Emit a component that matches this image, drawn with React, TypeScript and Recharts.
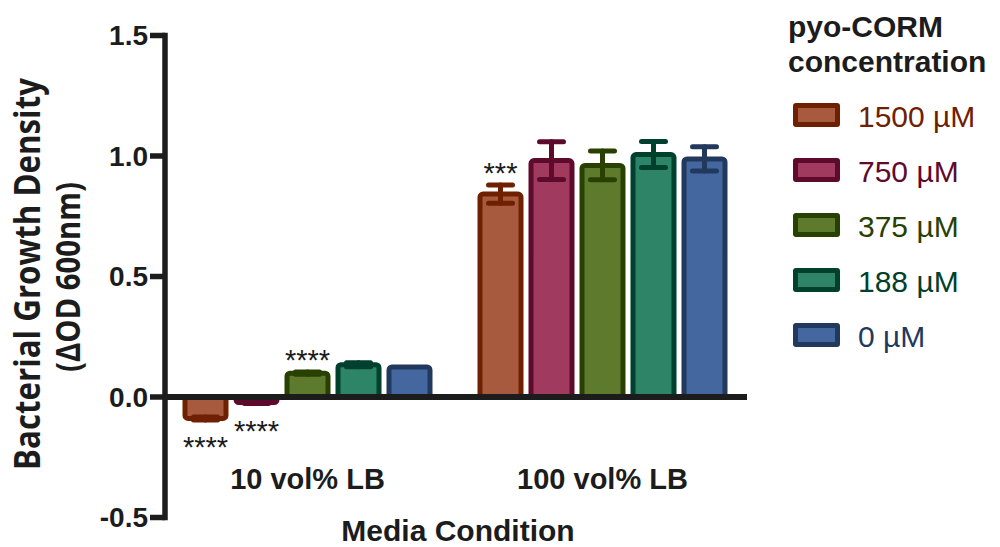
import {
  BarChart,
  Bar,
  XAxis,
  YAxis,
  ErrorBar,
  ReferenceLine,
  LabelList,
  Label,
} from 'recharts'

const categories = ['10 vol% LB', '100 vol% LB']
const concentrations = ['1500 µM', '750 µM', '375 µM', '188 µM', '0 µM']

const mean1500 = [-0.089, 0.842]
const err1500 = [0.006, 0.038]
const sig1500 = ['****', '***']

const mean750 = [-0.023, 0.981]
const err750 = [0.004, 0.078]
const sig750 = ['****', '']

const mean375 = [0.099, 0.961]
const err375 = [0.005, 0.06]
const sig375 = ['****', '']

const mean188 = [0.134, 1.006]
const err188 = [0.008, 0.054]
const sig188 = ['', '']

const mean0 = [0.125, 0.988]
const err0 = [0, 0.05]
const sig0 = ['', '']

const yTicks = [-0.5, 0, 0.5, 1.0, 1.5]

const fills = ['#A85A3E', '#A03A5E', '#5E7A2C', '#2E8466', '#4467A0']
const strokes = ['#6F2000', '#5E0A2C', '#284000', '#00402C', '#22395E']

const seriesValues = [
  { key: 'c1500', means: mean1500, errs: err1500, sigs: sig1500 },
  { key: 'c750', means: mean750, errs: err750, sigs: sig750 },
  { key: 'c375', means: mean375, errs: err375, sigs: sig375 },
  { key: 'c188', means: mean188, errs: err188, sigs: sig188 },
  { key: 'c0', means: mean0, errs: err0, sigs: sig0 },
]

const data = categories.map((name, i) => {
  const row: Record<string, string | number> = { name }
  seriesValues.forEach((s) => {
    row[s.key] = s.means[i]
    row[s.key + 'Err'] = s.errs[i]
  })
  return row
})

const AXIS = '#1c1c1c'
const ARIAL = '"Liberation Sans", Arial, Helvetica, sans-serif'

// stars sit a fixed distance past the end of the error bar
const sigLabel = (means: number[], errs: number[], sigs: string[]) => (props: any) => {
  const { x, y, width, height, index } = props
  const s = sigs[index]
  if (!s) return null
  const v = means[index]
  const h = Number(height)
  const top = Math.min(Number(y), Number(y) + h)
  const bottom = Math.max(Number(y), Number(y) + h)
  const pxPerUnit = Math.abs(h) / Math.abs(v)
  const errPx = errs[index] * pxPerUnit
  const cx = Number(x) + Number(width) / 2
  const cy = v < 0 ? bottom + errPx + 20 : top - errPx - 19
  return (
    <text x={cx} y={cy + 17} textAnchor="middle" fontSize={29} fontFamily={ARIAL} fill="#1c1c1c">
      {s}
    </text>
  )
}

const CategoryTick = (props: any) => {
  const { x, y, payload } = props
  return (
    <text x={x} y={y - 28.5} textAnchor="middle" fontSize={29} fontWeight="bold" fontFamily={ARIAL} fill={AXIS}>
      {payload.value}
    </text>
  )
}

export default function App() {
  return (
    <div style={{ position: 'absolute', left: 0, top: 0, width: 1000, height: 547, background: '#fff', fontFamily: ARIAL }}>
      <BarChart
        width={1000}
        height={547}
        data={data}
        margin={{ top: 35.5, right: 253, bottom: 0, left: 0 }}
        barSize={41}
        barGap={10}
      >
        <XAxis
          dataKey="name"
          axisLine={false}
          tickLine={false}
          tickSize={0}
          tickMargin={0}
          height={29.5}
          padding={{ left: -5, right: -3 }}
          tick={<CategoryTick />}
          interval={0}
        >
          <Label
            content={(p: any) => {
              const vb = p.viewBox || { x: 165, y: 517.5, width: 582 }
              return (
                <text x={vb.x + vb.width / 2 + 2} y={vb.y + 23} textAnchor="middle" fontSize={30} fontWeight="bold" fontFamily={ARIAL} fill={AXIS}>
                  Media Condition
                </text>
              )
            }}
          />
        </XAxis>
        <YAxis
          width={165}
          domain={[-0.5, 1.5]}
          ticks={yTicks}
          allowDataOverflow
          tickFormatter={(v: number) => v.toFixed(1)}
          axisLine={{ stroke: AXIS, strokeWidth: 5.5, strokeLinecap: 'square' }}
          tickLine={{ stroke: AXIS, strokeWidth: 5.5 }}
          tickSize={15}
          tickMargin={2}
          tick={{ fontSize: 28, fontWeight: 'bold', fontFamily: ARIAL, fill: AXIS }}
        >
          <Label
            content={() => (
              <g fontFamily='"Open Sans", "DejaVu Sans", sans-serif' fontWeight="bold" fill={AXIS}>
                <text
                  transform="translate(40,274) rotate(-90)"
                  textAnchor="middle"
                  fontSize={36}
                  textLength={392}
                  lengthAdjust="spacingAndGlyphs"
                >
                  Bacterial Growth Density
                </text>
                <text
                  transform="translate(80,277) rotate(-90)"
                  textAnchor="middle"
                  fontSize={34}
                  textLength={190}
                  lengthAdjust="spacingAndGlyphs"
                >
                  (ΔOD 600nm)
                </text>
              </g>
            )}
          />
        </YAxis>
        {seriesValues.map((s, i) => (
          <Bar
            key={s.key}
            dataKey={s.key}
            name={concentrations[i]}
            fill={fills[i]}
            stroke={strokes[i]}
            strokeWidth={5}
            radius={3}
            isAnimationActive={false}
          >
            <ErrorBar
              dataKey={s.key + 'Err'}
              width={12}
              stroke={strokes[i]}
              strokeWidth={5}
              strokeLinecap="round"
            />
            <LabelList dataKey={s.key} content={sigLabel(s.means, s.errs, s.sigs)} />
          </Bar>
        ))}
        <ReferenceLine y={0} stroke={AXIS} strokeWidth={6} />
      </BarChart>

      <div style={{ position: 'absolute', left: 788, top: 9, fontSize: 30, lineHeight: '35px', fontWeight: 'bold', color: AXIS }}>
        pyo-CORM
        <br />
        concentration
      </div>
      {concentrations.map((c, i) => (
        <div
          key={c}
          style={{ position: 'absolute', left: 793, top: 103 + i * 55, height: 24, display: 'flex', alignItems: 'center' }}
        >
          <div
            style={{
              width: 37,
              height: 14,
              border: `5px solid ${strokes[i]}`,
              background: fills[i],
              borderRadius: 3,
            }}
          />
          <span style={{ marginLeft: 18, fontSize: 30, lineHeight: '24px', paddingTop: 4, color: strokes[i], whiteSpace: 'nowrap' }}>
            {c}
          </span>
        </div>
      ))}
    </div>
  )
}
